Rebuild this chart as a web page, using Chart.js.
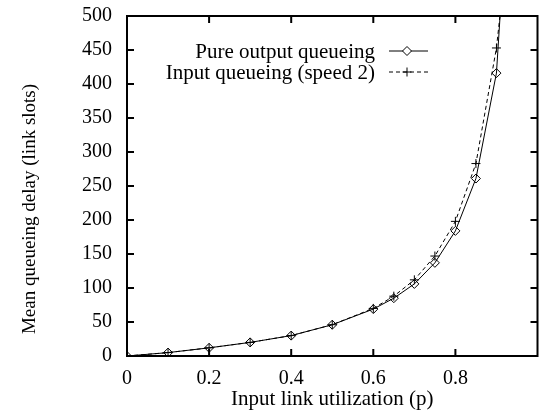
<!DOCTYPE html>
<html>
<head>
<meta charset="utf-8">
<script src="https://cdn.jsdelivr.net/npm/chart.js@4/dist/chart.umd.min.js"></script>
<style>
  html, body { margin: 0; padding: 0; background: #fff; overflow: hidden; }
</style>
</head>
<body>
<canvas id="delaychart" width="543" height="413"></canvas>
<script>
// utilization values (p) and mean delays
var utilization = [0, 0.1, 0.2, 0.3, 0.4, 0.5, 0.6, 0.65, 0.7, 0.75, 0.8, 0.85, 0.9, 0.95];
var outputDelay = [0, 5, 12, 20, 30, 46, 69, 85, 106, 137, 184, 261, 416, 890];
var inputDelay = [0, 5, 12, 20, 30, 46, 70, 88, 112, 147, 198, 283, 453, 730];
var seriesLabels = ['Pure output queueing', 'Input queueing (speed 2)'];
var xTicks = [0, 0.2, 0.4, 0.6, 0.8];
var yTitle = 'Mean queueing delay (link slots)';
var xTitle = 'Input link utilization (p)';

var serif = '"Liberation Serif", "DejaVu Serif", serif';

function points(ys) {
    return utilization.map(function (x, i) { return { x: x, y: ys[i] } })
}

// gnuplot style frame, inward ticks, legend and y title
var framePlugin = {
    id: 'frame',
    afterDatasetsDraw: function (chart) {
        var ctx = chart.ctx
        var a = chart.chartArea
        var xs = chart.scales.x
        var ys = chart.scales.y
        var tl = 7
        ctx.save()
        ctx.strokeStyle = '#000'
        ctx.lineWidth = 2
        ctx.strokeRect(a.left, a.top, a.right - a.left, a.bottom - a.top)
        ctx.beginPath()
        xTicks.forEach(function (v) {
            var px = xs.getPixelForValue(v)
            ctx.moveTo(px, a.bottom); ctx.lineTo(px, a.bottom - tl)
            ctx.moveTo(px, a.top); ctx.lineTo(px, a.top + tl)
        })
        ys.ticks.forEach(function (t) {
            var py = ys.getPixelForValue(t.value)
            ctx.moveTo(a.left, py); ctx.lineTo(a.left + tl, py)
            ctx.moveTo(a.right, py); ctx.lineTo(a.right - tl, py)
        })
        ctx.stroke()

        // legend: text right aligned, sample on the right
        ctx.font = '21px ' + serif
        ctx.textAlign = 'right'
        ctx.textBaseline = 'middle'
        chart.data.datasets.forEach(function (ds, i) {
            var y = 51 + i * 21
            ctx.fillStyle = '#000'
            ctx.fillText(ds.label, 375, y + 1)
            ctx.lineWidth = 1
            ctx.setLineDash(ds.borderDash || [])
            ctx.beginPath()
            ctx.moveTo(389, y); ctx.lineTo(428, y)
            ctx.stroke()
            ctx.setLineDash([])
            ctx.fillStyle = '#fff'
            Chart.helpers.drawPoint(ctx, {
                pointStyle: ds.pointStyle, radius: ds.pointRadius, rotation: 0, borderWidth: 1
            }, 407, y)
        })

        // y axis title
        ctx.fillStyle = '#000'
        ctx.translate(30, 209)
        ctx.rotate(-Math.PI / 2)
        ctx.textAlign = 'center'
        ctx.font = '19px ' + serif
        ctx.fillText(yTitle, 0, 0)
        ctx.restore()
    }
}

var ctx = document.getElementById('delaychart').getContext('2d')
new Chart(ctx, {
    type: 'line',
    data: {
        datasets: [
            {
                label: seriesLabels[0],
                data: points(outputDelay),
                borderColor: '#000',
                backgroundColor: '#fff',
                borderWidth: 1,
                pointStyle: 'rectRot',
                pointRadius: 4.5,
                pointBorderWidth: 1,
                pointBorderColor: '#000',
                pointBackgroundColor: 'rgba(255,255,255,0)',
                tension: 0
            },
            {
                label: seriesLabels[1],
                data: points(inputDelay),
                borderColor: '#000',
                borderWidth: 1,
                borderDash: [4, 3],
                pointStyle: 'cross',
                pointRadius: 4.5,
                pointBorderWidth: 1,
                pointBorderColor: '#000',
                tension: 0
            }
        ]
    },
    options: {
        responsive: false,
        animation: false,
        events: [],
        layout: { padding: { left: 0, right: 1, top: 16, bottom: 0 } },
        plugins: {
            legend: { display: false },
            tooltip: { enabled: false }
        },
        scales: {
            x: {
                type: 'linear',
                min: 0,
                max: 1,
                afterFit: function (s) {
                    s.height = 57
                    s.paddingLeft = 0
                    s.paddingRight = 0
                },
                afterBuildTicks: function (s) {
                    s.ticks = xTicks.map(function (v) { return { value: v } })
                },
                grid: { display: false, drawTicks: false },
                border: { display: false },
                ticks: {
                    padding: 11,
                    color: '#000',
                    font: { family: serif, size: 20 },
                    maxRotation: 0
                },
                title: {
                    display: true,
                    text: xTitle,
                    color: '#000',
                    font: { family: serif, size: 21 },
                    padding: { top: 0, bottom: 1 }
                }
            },
            y: {
                min: 0,
                max: 500,
                afterFit: function (s) {
                    s.width = 127
                    s.paddingTop = 0
                    s.paddingBottom = 0
                },
                grid: { display: false, drawTicks: false },
                border: { display: false },
                ticks: {
                    stepSize: 50,
                    padding: 15,
                    color: '#000',
                    font: { family: serif, size: 20 }
                }
            }
        }
    },
    plugins: [framePlugin]
})
</script>
</body>
</html>
